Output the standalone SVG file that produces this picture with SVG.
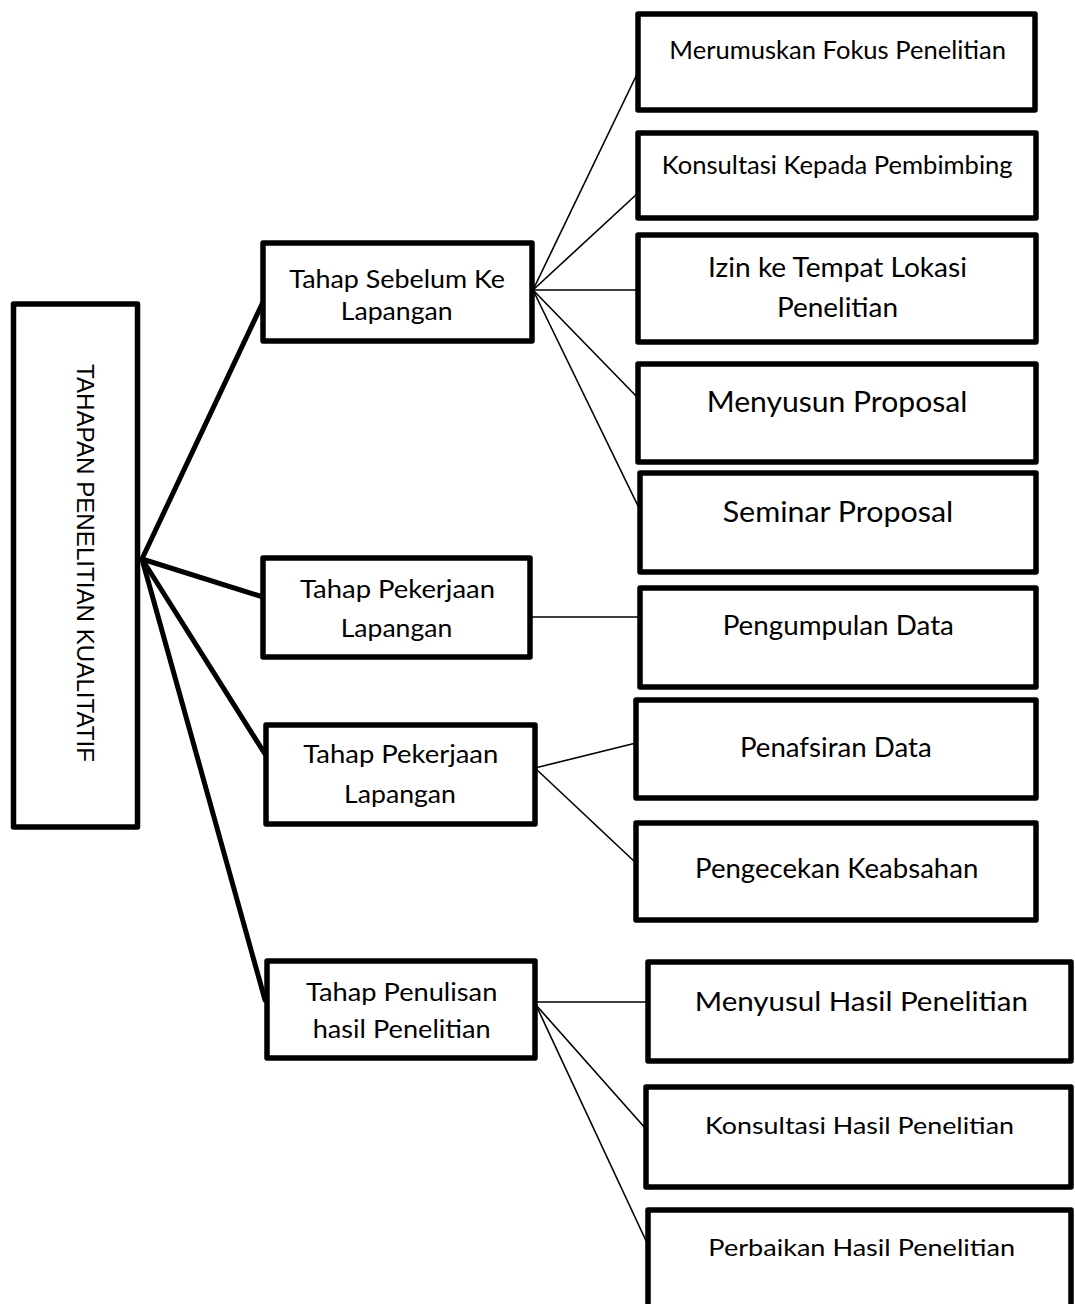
<svg xmlns="http://www.w3.org/2000/svg" width="1075" height="1304" viewBox="0 0 1075 1304">
<style>
.box{fill:#fff;stroke:#000;stroke-width:5.5;stroke-linejoin:round}
.thick{stroke:#000;stroke-width:5;stroke-linecap:round;fill:none}
.thin{stroke:#000;stroke-width:1.6;fill:none}
.t{font-family:Lato,"Open Sans","Liberation Sans",sans-serif;fill:#000;text-anchor:middle}
.main{font-family:"Liberation Sans",Arial,sans-serif;font-size:23.7px;fill:#000;text-anchor:middle}
</style>
<rect width="1075" height="1304" fill="#fff"/>
<g id="connectors">
<line class="thick" x1="142" y1="559" x2="263" y2="302"/>
<line class="thick" x1="142" y1="559" x2="263" y2="597"/>
<line class="thick" x1="142" y1="559" x2="265" y2="754"/>
<line class="thick" x1="142" y1="559" x2="265" y2="1000"/>
<line class="thin" x1="533" y1="290" x2="638" y2="72"/>
<line class="thin" x1="533" y1="290" x2="638" y2="193"/>
<line class="thin" x1="533" y1="290" x2="638" y2="290"/>
<line class="thin" x1="533" y1="290" x2="638" y2="398"/>
<line class="thin" x1="533" y1="290" x2="640" y2="510"/>
<line class="thin" x1="530" y1="617" x2="640" y2="617"/>
<line class="thin" x1="535" y1="768" x2="636" y2="743"/>
<line class="thin" x1="535" y1="768" x2="636" y2="863"/>
<line class="thin" x1="535" y1="1002" x2="648" y2="1002"/>
<line class="thin" x1="536" y1="1005" x2="646" y2="1129"/>
<line class="thin" x1="536" y1="1005" x2="648" y2="1245"/>
</g>
<g id="n-main">
<rect class="box" x="13.5" y="304" width="124" height="523"/>
<text class="main" transform="translate(77,563) rotate(90)" textLength="398" lengthAdjust="spacingAndGlyphs">TAHAPAN PENELITIAN KUALITATIF</text>
</g>
<g id="n-sebelum">
<rect class="box" x="263" y="243" width="269" height="98"/>
<text class="t" font-size="25.8" x="397.2" y="288.3" textLength="215.7" lengthAdjust="spacingAndGlyphs">Tahap Sebelum Ke</text>
<text class="t" font-size="25.8" x="396.7" y="320" textLength="112" lengthAdjust="spacingAndGlyphs">Lapangan</text>
</g>
<g id="n-pekerjaan1">
<rect class="box" x="263" y="558" width="267" height="99"/>
<text class="t" font-size="25.8" x="397.5" y="598.3" textLength="195" lengthAdjust="spacingAndGlyphs">Tahap Pekerjaan</text>
<text class="t" font-size="25.8" x="396.5" y="636.7" textLength="111.6" lengthAdjust="spacingAndGlyphs">Lapangan</text>
</g>
<g id="n-pekerjaan2">
<rect class="box" x="266" y="725" width="269" height="99"/>
<text class="t" font-size="25.8" x="400.8" y="762.7" textLength="195" lengthAdjust="spacingAndGlyphs">Tahap Pekerjaan</text>
<text class="t" font-size="25.8" x="400" y="803.3" textLength="112" lengthAdjust="spacingAndGlyphs">Lapangan</text>
</g>
<g id="n-penulisan">
<rect class="box" x="267" y="961" width="268" height="97"/>
<text class="t" font-size="25.8" x="401.7" y="1000.7" textLength="191.3" lengthAdjust="spacingAndGlyphs">Tahap Penulisan</text>
<text class="t" font-size="25.8" x="401.7" y="1038.3" textLength="178" lengthAdjust="spacingAndGlyphs">hasil Penelitian</text>
</g>
<g id="n-merumuskan">
<rect class="box" x="638" y="14" width="397" height="96"/>
<text class="t" font-size="24.7" x="837.7" y="59.3" textLength="336.7" lengthAdjust="spacingAndGlyphs">Merumuskan Fokus Penelitian</text>
</g>
<g id="n-konsultasi">
<rect class="box" x="638" y="133" width="398" height="85"/>
<text class="t" font-size="24.7" x="837.2" y="174" textLength="351" lengthAdjust="spacingAndGlyphs">Konsultasi Kepada Pembimbing</text>
</g>
<g id="n-izin">
<rect class="box" x="638" y="235" width="398" height="107"/>
<text class="t" font-size="27" x="837.5" y="276.7" textLength="259" lengthAdjust="spacingAndGlyphs">Izin ke Tempat Lokasi</text>
<text class="t" font-size="27" x="837.5" y="316.7" textLength="121" lengthAdjust="spacingAndGlyphs">Penelitian</text>
</g>
<g id="n-menyusun">
<rect class="box" x="638" y="364" width="398" height="98"/>
<text class="t" font-size="29" x="837" y="411.7" textLength="260.6" lengthAdjust="spacingAndGlyphs">Menyusun Proposal</text>
</g>
<g id="n-seminar">
<rect class="box" x="640" y="473" width="396" height="99"/>
<text class="t" font-size="29" x="838" y="521.7" textLength="230.6" lengthAdjust="spacingAndGlyphs">Seminar Proposal</text>
</g>
<g id="n-pengumpulan">
<rect class="box" x="640" y="588" width="396" height="99"/>
<text class="t" font-size="26.8" x="838.3" y="635" textLength="231.3" lengthAdjust="spacingAndGlyphs">Pengumpulan Data</text>
</g>
<g id="n-penafsiran">
<rect class="box" x="636" y="700" width="400" height="98"/>
<text class="t" font-size="26.8" x="835.8" y="756.7" textLength="191.7" lengthAdjust="spacingAndGlyphs">Penafsiran Data</text>
</g>
<g id="n-pengecekan">
<rect class="box" x="636" y="823" width="400" height="97"/>
<text class="t" font-size="26.8" x="836.7" y="878.3" textLength="283.3" lengthAdjust="spacingAndGlyphs">Pengecekan Keabsahan</text>
</g>
<g id="n-menyusul">
<rect class="box" x="648" y="962" width="423" height="99"/>
<text class="t" font-size="26.5" x="861.3" y="1010.7" textLength="333.2" lengthAdjust="spacingAndGlyphs">Menyusul Hasil Penelitian</text>
</g>
<g id="n-konsultasi-hasil">
<rect class="box" x="646" y="1087" width="425" height="100"/>
<text class="t" font-size="23.3" x="859.5" y="1134" textLength="309" lengthAdjust="spacingAndGlyphs">Konsultasi Hasil Penelitian</text>
</g>
<g id="n-perbaikan">
<rect class="box" x="648" y="1210" width="423" height="110"/>
<text class="t" font-size="23.3" x="861.7" y="1256" textLength="306.7" lengthAdjust="spacingAndGlyphs">Perbaikan Hasil Penelitian</text>
</g>
</svg>
